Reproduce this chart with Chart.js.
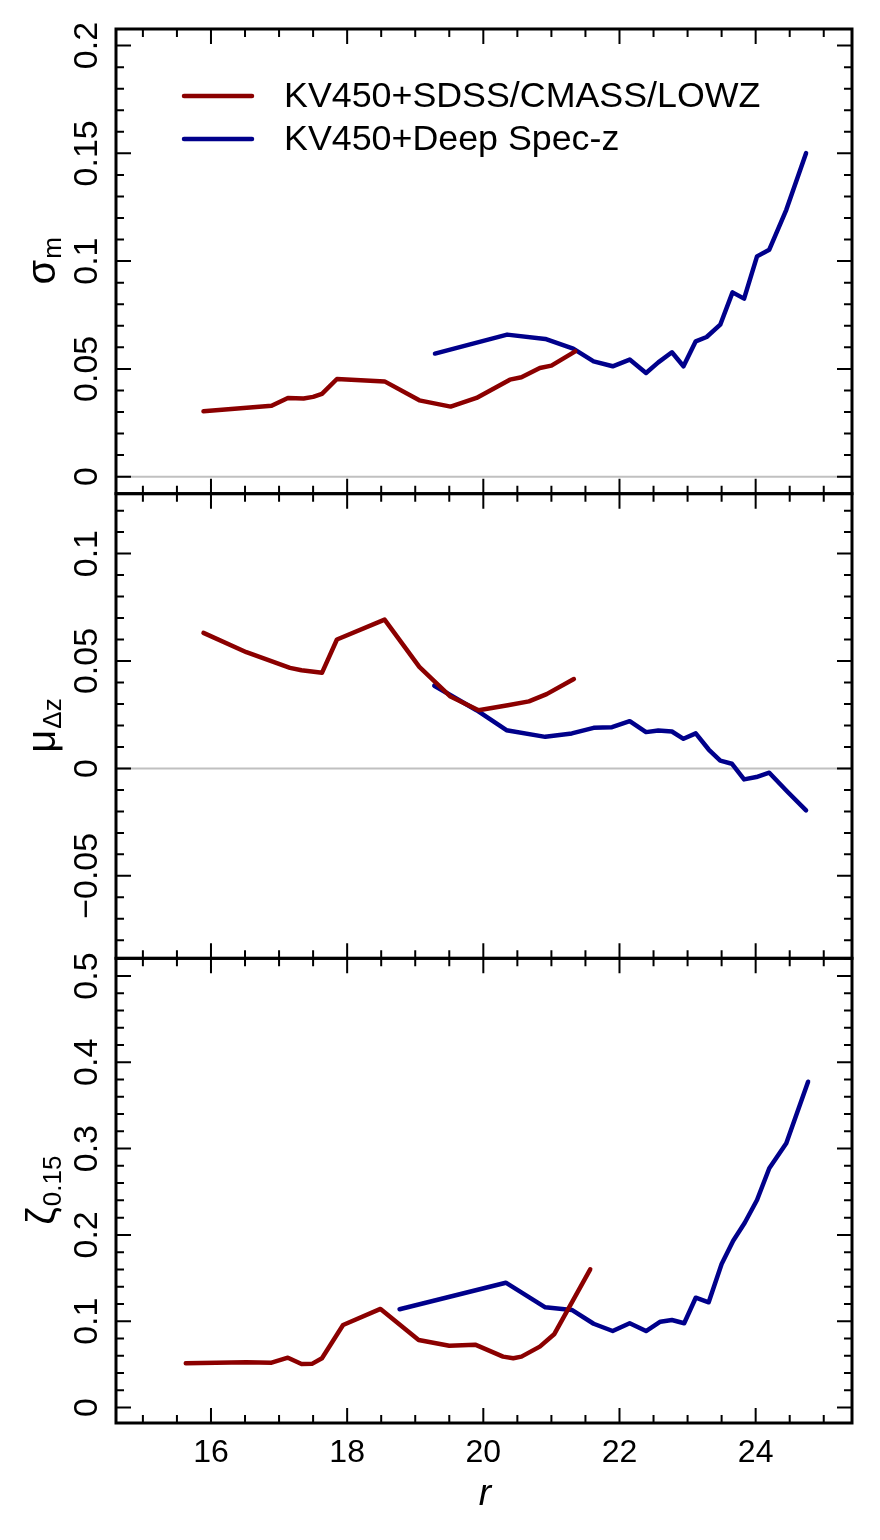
<!DOCTYPE html>
<html>
<head>
<meta charset="utf-8">
<script src="https://cdn.jsdelivr.net/npm/chart.js@4.4.1/dist/chart.umd.min.js"></script>
<style>
  html, body { margin: 0; padding: 0; background: #fff; }
  canvas { display: block; }
</style>
</head>
<body>
<canvas id="myChart" width="880" height="1540"></canvas>
<script>
// series names (legend)
const seriesNames = ['KV450+SDSS/CMASS/LOWZ', 'KV450+Deep Spec-z'];
const seriesColors = ['#8b0000', '#00008b'];

// panel 1: sigma_m
const sigmaRedX = [15.89, 16.89, 17.13, 17.36, 17.50, 17.63, 17.85, 18.55, 19.06, 19.52, 19.90, 20.39, 20.56, 20.83, 21.00, 21.35];
const sigmaRedY = [0.0303, 0.0329, 0.0365, 0.0363, 0.0370, 0.0384, 0.0453, 0.0442, 0.0354, 0.0325, 0.0365, 0.0450, 0.0461, 0.0504, 0.0515, 0.0581];
const sigmaBlueX = [19.29, 20.35, 20.91, 21.32, 21.62, 21.90, 22.15, 22.39, 22.57, 22.77, 22.94, 23.12, 23.28, 23.48, 23.66, 23.83, 24.02, 24.20, 24.45, 24.74];
const sigmaBlueY = [0.0571, 0.0659, 0.0639, 0.0594, 0.0535, 0.0512, 0.0543, 0.0481, 0.0530, 0.0577, 0.0512, 0.0628, 0.0648, 0.0705, 0.0855, 0.0826, 0.1022, 0.1053, 0.1238, 0.1501];

// panel 2: mu_dz
const muRedX = [15.89, 16.52, 17.16, 17.33, 17.63, 17.85, 18.55, 19.06, 19.51, 19.93, 20.36, 20.67, 20.93, 21.33];
const muRedY = [0.0631, 0.0541, 0.0468, 0.0457, 0.0445, 0.0600, 0.0693, 0.0473, 0.0336, 0.0271, 0.0294, 0.0312, 0.0346, 0.0416];
const muBlueX = [19.28, 19.90, 20.34, 20.91, 21.30, 21.62, 21.89, 22.15, 22.39, 22.57, 22.77, 22.94, 23.12, 23.31, 23.48, 23.65, 23.83, 24.01, 24.20, 24.46, 24.74];
const muBlueY = [0.0385, 0.0271, 0.0178, 0.0147, 0.0163, 0.0189, 0.0192, 0.0220, 0.0169, 0.0177, 0.0172, 0.0138, 0.0163, 0.0088, 0.0036, 0.0022, -0.0051, -0.0040, -0.0020, -0.0106, -0.0195];

// panel 3: zeta_0.15
const zetaRedX = [15.63, 16.52, 16.89, 17.13, 17.33, 17.49, 17.63, 17.94, 18.49, 19.05, 19.50, 19.88, 20.29, 20.44, 20.56, 20.83, 21.04, 21.57];
const zetaRedY = [0.0512, 0.0524, 0.0519, 0.0577, 0.0504, 0.0508, 0.0570, 0.0956, 0.1142, 0.0782, 0.0716, 0.0728, 0.0589, 0.0570, 0.0589, 0.0705, 0.0848, 0.1601];
const zetaBlueX = [18.77, 20.33, 20.91, 21.30, 21.62, 21.90, 22.15, 22.39, 22.60, 22.77, 22.95, 23.12, 23.31, 23.50, 23.67, 23.84, 24.02, 24.20, 24.45, 24.77];
const zetaBlueY = [0.1138, 0.1446, 0.1161, 0.1130, 0.0970, 0.0886, 0.0976, 0.0886, 0.0994, 0.1014, 0.0976, 0.1272, 0.1219, 0.1663, 0.1933, 0.2141, 0.2404, 0.2772, 0.3061, 0.3775];

// tick labels
const xTicks = [16, 18, 20, 22, 24];
const xTickLabels = ['16', '18', '20', '22', '24'];
const sigmaTicks = [0, 0.05, 0.1, 0.15, 0.2];
const sigmaTickLabels = ['0', '0.05', '0.1', '0.15', '0.2'];
const muTicks = [-0.05, 0, 0.05, 0.1];
const muTickLabels = ['\u22120.05', '0', '0.05', '0.1'];
const zetaTicks = [0, 0.1, 0.2, 0.3, 0.4, 0.5];
const zetaTickLabels = ['0', '0.1', '0.2', '0.3', '0.4', '0.5'];

const FONT = '"Liberation Sans", Arial, Helvetica, sans-serif';

function pts(xs, ys) {
    return xs.map((x, i) => ({ x: x, y: ys[i] }));
}

function lineSet(label, xs, ys, color, axis) {
    return {
        label: label,
        data: pts(xs, ys),
        yAxisID: axis,
        borderColor: color,
        backgroundColor: color,
        borderWidth: 4.5,
        pointRadius: 0,
        tension: 0,
        fill: false,
        borderCapStyle: 'round',
        borderJoinStyle: 'round'
    };
}

// panel layout info for the drawing plugin
const panels = [
    { id: 'ySigma', ticks: sigmaTicks, labels: sigmaTickLabels, minor: 0.01, zero: true, title: '\u03c3', sub: 'm' },
    { id: 'yMu', ticks: muTicks, labels: muTickLabels, minor: 0.01, zero: true, title: '\u03bc', sub: '\u0394z' },
    { id: 'yZeta', ticks: zetaTicks, labels: zetaTickLabels, minor: 0.02, zero: false, title: '\u03b6', sub: '0.15' }
];

function minorVals(min, max, step) {
    const out = [];
    for (let k = Math.ceil(min / step - 1e-9); k <= Math.floor(max / step + 1e-9); k++) {
        out.push(+(k * step).toFixed(6));
    }
    return out;
}

const framePlugin = {
    id: 'frame',
    beforeDatasetsDraw(chart) {
        const ctx = chart.ctx;
        const { left, right } = chart.chartArea;
        ctx.save();
        ctx.strokeStyle = '#c0c0c0';
        ctx.lineWidth = 2;
        panels.forEach(p => {
            if (!p.zero) return;
            const y = chart.scales[p.id].getPixelForValue(0);
            ctx.beginPath();
            ctx.moveTo(left, y);
            ctx.lineTo(right, y);
            ctx.stroke();
        });
        ctx.restore();
    },
    afterDraw(chart) {
        const ctx = chart.ctx;
        const xs = chart.scales.x;
        const { left, right } = chart.chartArea;
        const MAJ = 15, MIN = 8;
        ctx.save();
        ctx.strokeStyle = '#000';
        ctx.fillStyle = '#000';

        panels.forEach(p => {
            const s = chart.scales[p.id];
            const top = s.top, bottom = s.bottom;

            // x ticks top & bottom of each panel
            ctx.lineWidth = 2;
            ctx.beginPath();
            minorVals(xs.min, xs.max, 0.5).forEach(v => {
                const x = xs.getPixelForValue(v);
                const len = xTicks.includes(v) ? MAJ : MIN;
                ctx.moveTo(x, bottom); ctx.lineTo(x, bottom - len);
                ctx.moveTo(x, top); ctx.lineTo(x, top + len);
            });
            // y ticks left & right
            minorVals(s.min, s.max, p.minor).forEach(v => {
                const y = s.getPixelForValue(v);
                const len = p.ticks.some(t => Math.abs(t - v) < 1e-6) ? MAJ : MIN;
                ctx.moveTo(left, y); ctx.lineTo(left + len, y);
                ctx.moveTo(right, y); ctx.lineTo(right - len, y);
            });
            ctx.stroke();

            // frame
            ctx.lineWidth = 3;
            ctx.strokeRect(left, top, right - left, bottom - top);

            // y tick labels (rotated)
            ctx.font = '34px ' + FONT;
            ctx.textAlign = 'center';
            ctx.textBaseline = 'alphabetic';
            p.ticks.forEach((v, i) => {
                const y = s.getPixelForValue(v);
                ctx.save();
                ctx.translate(97, y);
                ctx.rotate(-Math.PI / 2);
                ctx.fillText(p.labels[i], 0, 0);
                ctx.restore();
            });

            // axis title with subscript
            ctx.save();
            ctx.translate(55, (top + bottom) / 2);
            ctx.rotate(-Math.PI / 2);
            ctx.font = '40px ' + FONT;
            const w1 = ctx.measureText(p.title).width;
            ctx.font = '26px ' + FONT;
            const w2 = ctx.measureText(p.sub).width;
            const x0 = -(w1 + w2) / 2;
            ctx.textAlign = 'left';
            ctx.font = '40px ' + FONT;
            ctx.fillText(p.title, x0, 0);
            ctx.font = '26px ' + FONT;
            ctx.fillText(p.sub, x0 + w1 + 1, 6);
            ctx.restore();
        });

        // x tick labels
        const bottomPanel = chart.scales.yZeta;
        ctx.font = '32px ' + FONT;
        ctx.textAlign = 'center';
        ctx.textBaseline = 'alphabetic';
        xTicks.forEach((v, i) => {
            ctx.fillText(xTickLabels[i], xs.getPixelForValue(v), bottomPanel.bottom + 39);
        });
        ctx.font = 'italic 37px ' + FONT;
        ctx.fillText('r', (left + right) / 2 + 1, bottomPanel.bottom + 82);

        // legend
        ctx.font = '35.8px ' + FONT;
        ctx.textAlign = 'left';
        ctx.textBaseline = 'middle';
        ctx.lineCap = 'round';
        seriesNames.forEach((name, i) => {
            const y = 96 + i * 43;
            ctx.strokeStyle = seriesColors[i];
            ctx.lineWidth = 4.5;
            ctx.beginPath();
            ctx.moveTo(184, y);
            ctx.lineTo(252, y);
            ctx.stroke();
            ctx.fillStyle = '#000';
            ctx.fillText(name, 284, y + 1);
        });
        ctx.restore();
    }
};

function hiddenY(min, max, weight) {
    return {
        type: 'linear',
        position: 'left',
        stack: 'panels',
        stackWeight: 1,
        weight: weight,
        min: min,
        max: max,
        ticks: { display: false },
        grid: { display: false, drawTicks: false },
        border: { display: false },
        title: { display: false },
        afterFit(scale) { scale.width = 0; }
    };
}

const ctx = document.getElementById('myChart').getContext('2d');
const myChart = new Chart(ctx, {
    type: 'line',
    data: {
        datasets: [
            lineSet(seriesNames[0], sigmaRedX, sigmaRedY, seriesColors[0], 'ySigma'),
            lineSet(seriesNames[1], sigmaBlueX, sigmaBlueY, seriesColors[1], 'ySigma'),
            lineSet(seriesNames[0], muRedX, muRedY, seriesColors[0], 'yMu'),
            lineSet(seriesNames[1], muBlueX, muBlueY, seriesColors[1], 'yMu'),
            lineSet(seriesNames[0], zetaRedX, zetaRedY, seriesColors[0], 'yZeta'),
            lineSet(seriesNames[1], zetaBlueX, zetaBlueY, seriesColors[1], 'yZeta')
        ]
    },
    options: {
        responsive: false,
        animation: false,
        devicePixelRatio: 1,
        layout: { padding: { left: 116, top: 29, right: 28, bottom: 117 } },
        plugins: {
            legend: { display: false },
            tooltip: { enabled: false }
        },
        scales: {
            x: {
                type: 'linear',
                min: 14.605,
                max: 25.415,
                ticks: { display: false },
                grid: { display: false, drawTicks: false },
                border: { display: false },
                afterFit(scale) { scale.height = 0; }
            },
            ySigma: hiddenY(-0.0079, 0.2077, 3),
            yMu: hiddenY(-0.0884, 0.1279, 2),
            yZeta: hiddenY(-0.018, 0.5205, 1)
        }
    },
    plugins: [framePlugin]
});
</script>
</body>
</html>
